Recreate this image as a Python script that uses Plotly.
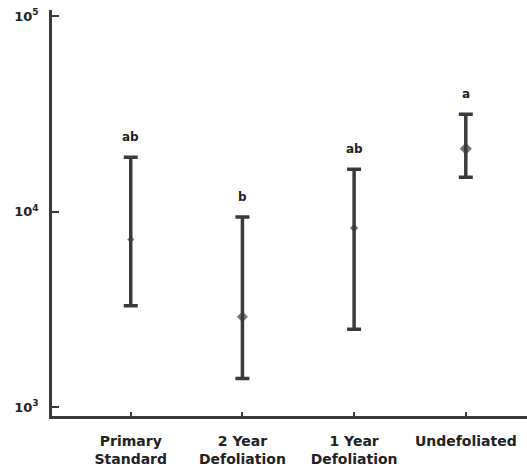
import numpy as np
import plotly.graph_objects as go

# Stand categories (two-line tick labels)
categories = ["Primary<br>Standard", "2 Year<br>Defoliation", "1 Year<br>Defoliation", "Undefoliated"]
# Geometric means and range limits (log scale)
means = [7200, 2900, 8250, 21000]
upper = [19000, 9400, 16500, 31500]
lower = [3300, 1400, 2500, 15000]
# Significance-group letters shown above each bar
groups = ["ab", "b", "ab", "a"]
# Mean-marker sizes
marker_sizes = [5, 8, 6, 9]

ink = "#3a3a3a"
font_family = "DejaVu Sans"

err_plus = [u - m for u, m in zip(upper, means)]
err_minus = [m - l for m, l in zip(means, lower)]

fig = go.Figure()
fig.add_trace(go.Scatter(
    x=categories,
    y=means,
    mode="markers",
    marker=dict(symbol="diamond", size=marker_sizes, color=ink,
                line=dict(color=ink, width=0.5)),
    error_y=dict(
        type="data",
        symmetric=False,
        array=err_plus,
        arrayminus=err_minus,
        color=ink,
        thickness=3.5,
        width=7,
    ),
    showlegend=False,
    hoverinfo="skip",
))

for cat, top, g in zip(categories, upper, groups):
    fig.add_annotation(
        x=cat, y=np.log10(top), text=g, showarrow=False,
        yanchor="middle", yshift=20,
        font=dict(family=font_family, size=12, color="#222222", weight="bold"),
    )

fig.update_xaxes(
    type="category",
    range=[-0.705, 3.548],
    showline=True, linewidth=2.5, linecolor=ink,
    ticks="inside", ticklen=4, tickwidth=1.5, tickcolor=ink,
    showgrid=False, zeroline=False,
    ticklabelstandoff=10,
    tickfont=dict(family=font_family, size=14, color="#222222", weight="bold"),
)
fig.update_yaxes(
    type="log",
    range=[2.9548, 5.0316],
    tickvals=[1e3, 1e4, 1e5],
    ticktext=["10<sup>3</sup>", "10<sup>4</sup>", "10<sup>5</sup>"],
    showline=True, linewidth=2.5, linecolor=ink,
    ticks="inside", ticklen=7, tickwidth=1.5, tickcolor=ink,
    showgrid=False, zeroline=False,
    ticklabelstandoff=8,
    tickfont=dict(family=font_family, size=13, color="#222222", weight="bold"),
)

fig.update_layout(
    width=527, height=472,
    margin=dict(l=52, r=0, t=10, b=56),
    paper_bgcolor="white",
    plot_bgcolor="white",
)

fig.write_html("out.html")
